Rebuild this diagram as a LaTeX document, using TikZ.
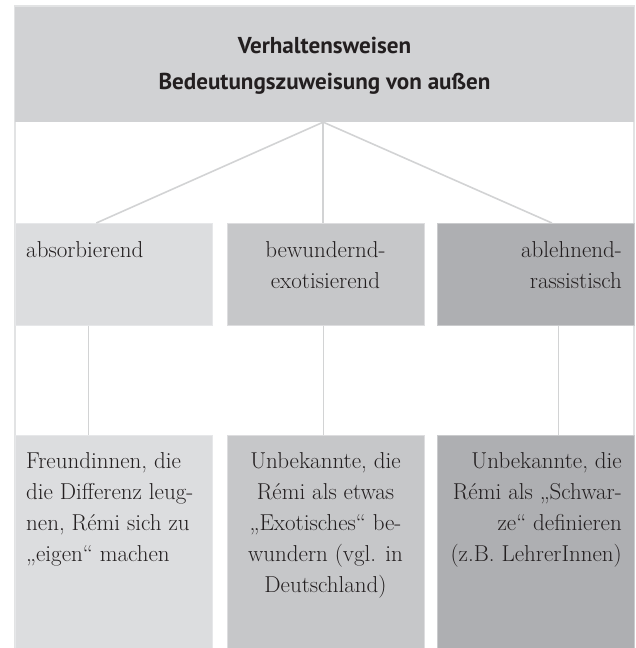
\documentclass[tikz,border=0pt]{standalone}
\usepackage{fontspec}
\setmainfont{Latin Modern Roman}
\newfontfamily\headfont{PT Sans}
\usetikzlibrary{calc}
\definecolor{hdrfill}{HTML}{D1D2D4}
\definecolor{boxa}{HTML}{DCDDDF}
\definecolor{boxb}{HTML}{C6C7C9}
\definecolor{boxc}{HTML}{AEAFB2}
\definecolor{framecol}{HTML}{E2E3E4}
\definecolor{conncol}{HTML}{D2D3D4}
\definecolor{inkcol}{HTML}{231F20}
\newlength\hdwidth
\newcommand\hdrxscale{0.9}
\begin{document}
\settowidth{\hdwidth}{\headfont\bfseries\fontsize{23}{36}\selectfont Bedeutungszuweisung von außen}%
\pgfmathsetmacro\hdrxscale{332/\hdwidth}%
\begin{tikzpicture}[x=1pt,y=-1pt,
  frameline/.style={draw=framecol,line width=1.5pt},
  hdrbox/.style={rectangle,fill=hdrfill,draw=none,inner sep=0pt,anchor=north west,minimum width=619pt,minimum height=115pt},
  catbox/.style={rectangle,inner sep=0pt,line width=0.8pt,anchor=north west,minimum width=197pt,minimum height=102pt},
  descbox/.style={rectangle,inner sep=0pt,line width=0.8pt,anchor=north west,minimum width=197pt,minimum height=230pt},
  conn/.style={draw=conncol,line width=1.6pt},
  bodytext/.style={inner sep=0pt,text=inkcol,font=\fontsize{23}{31}\selectfont},
  headtext/.style={inner sep=0pt,text=inkcol,align=center,anchor=north,font=\headfont\bfseries\fontsize{23}{36}\selectfont}
]
\useasboundingbox (0,0) rectangle (635,648);
% outer frame
\draw[frameline] (15,6) rectangle (634,670);
% header
\node[hdrbox] (head) at (15,6.75) {};
% category boxes
\node[catbox,fill=boxa,draw=boxa!70!white] (m1) at (15.4,223) {};
\node[catbox,fill=boxb,draw=boxb!60!white] (m2) at (227,223) {};
\node[catbox,fill=boxc,draw=boxc!65!white] (m3) at (437,223) {};
% description boxes
\node[descbox,fill=boxa,draw=boxa!70!white] (b1) at (15.4,435) {};
\node[descbox,fill=boxb,draw=boxb!60!white] (b2) at (227,435) {};
\node[descbox,fill=boxc,draw=boxc!65!white] (b3) at (437,435) {};
% connectors
\draw[conn] ([xshift=-1.5pt]head.south) -- ([xshift=-18pt]m1.north);
\draw[conn] ([xshift=-1.5pt]head.south) -- ([xshift=-1.5pt]head.south |- m2.north);
\draw[conn] ([xshift=-1.5pt]head.south) -- ([xshift=16pt]m3.north);
\draw[conn] ([xshift=-26pt]m1.south) -- ([xshift=-26pt]b1.north);
\draw[conn] ([xshift=-2.5pt]m2.south) -- ([xshift=-2.5pt]b2.north);
\draw[conn] ([xshift=22.5pt]m3.south) -- ([xshift=22.5pt]b3.north);
% header text
\node[headtext] (headtxt) at (324.5,33) {\rule{0pt}{20pt}\scalebox{\hdrxscale}[1]{Verhaltensweisen}\\\scalebox{\hdrxscale}[1]{Bedeutungszuweisung von außen}};
% category texts
\node[bodytext,align=left,anchor=north west] (m1txt) at (26,237) {\rule{0pt}{20pt}absorbierend};
\node[bodytext,align=center,anchor=north] (m2txt) at (325.5,237) {\rule{0pt}{20pt}bewundernd-\\exotisierend};
\node[bodytext,align=right,anchor=north east] (m3txt) at (622,237) {\rule{0pt}{20pt}ablehnend-\\rassistisch};
% description texts
\node[bodytext,align=left,anchor=north west] (b1txt) at (26,448) {\rule{0pt}{20pt}Freundinnen, die\\die Differenz leug-\\nen, Rémi sich zu\\„eigen“ machen};
\node[bodytext,align=center,anchor=north] (b2txt) at (325.5,448) {\rule{0pt}{20pt}Unbekannte, die\\Rémi als etwas\\„Exotisches“ be-\\wundern (vgl. in\\Deutschland)};
\node[bodytext,align=right,anchor=north east] (b3txt) at (622,448) {\rule{0pt}{20pt}Unbekannte, die\\Rémi als „Schwar-\\ze“ definieren\\(z.B. LehrerInnen)};
\end{tikzpicture}
\end{document}
